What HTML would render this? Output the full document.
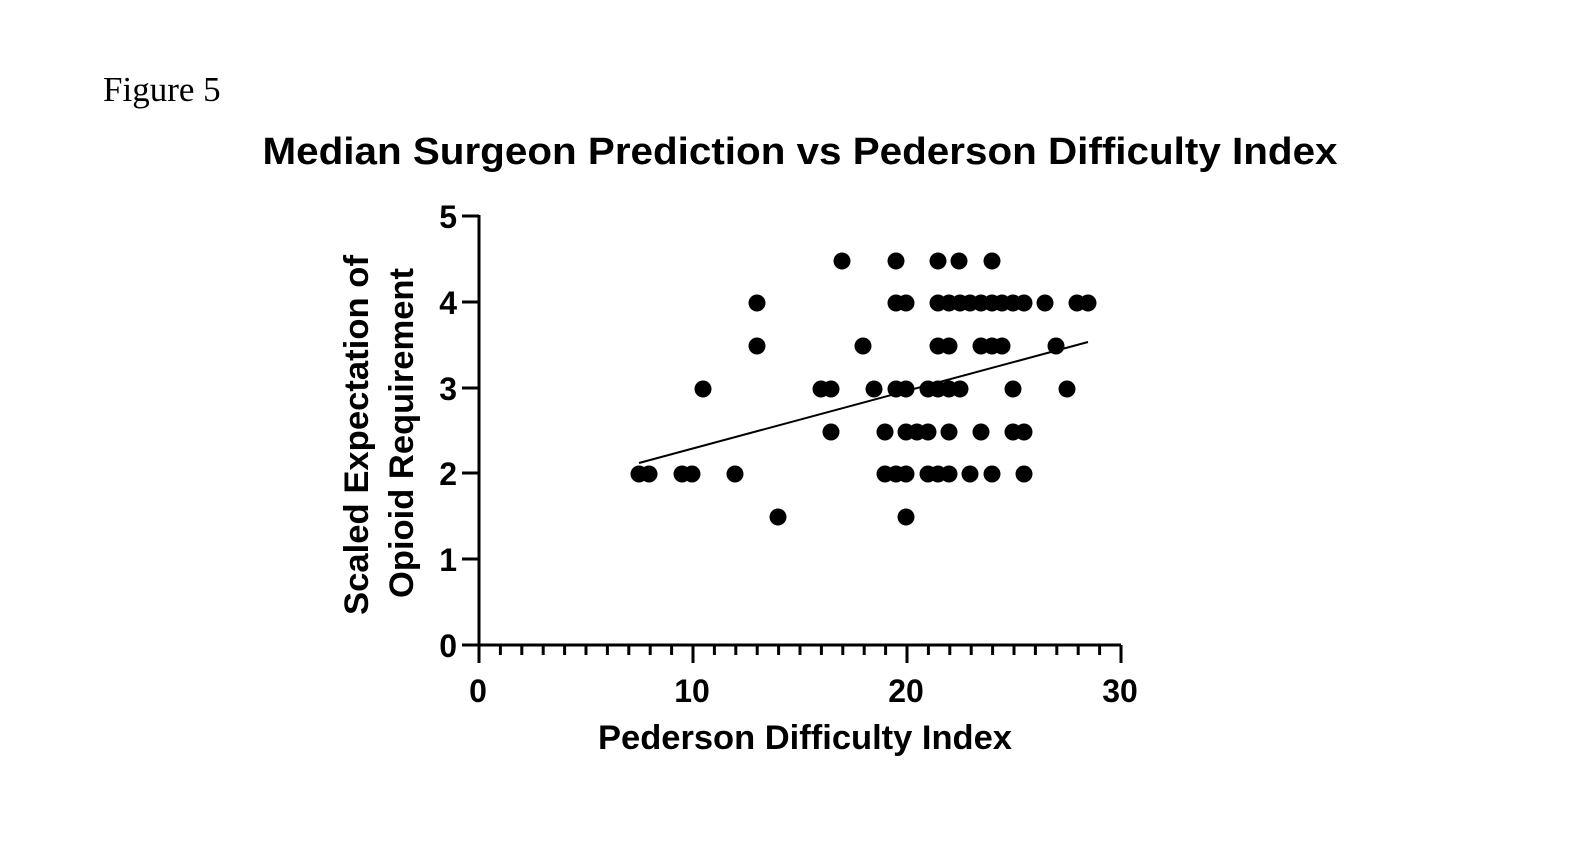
<!DOCTYPE html>
<html><head><meta charset="utf-8"><style>body{margin:0;background:#fff}svg{display:block}</style></head><body>
<svg width="1584" height="860" xmlns="http://www.w3.org/2000/svg" font-family="Liberation Sans, Arial, sans-serif">
<text x="103" y="101" font-family="Liberation Serif, serif" font-size="35">Figure 5</text>
<text x="800" y="164" font-size="38" font-weight="bold" text-anchor="middle" textLength="1075" lengthAdjust="spacingAndGlyphs">Median Surgeon Prediction vs Pederson Difficulty Index</text>
<g stroke="#000" stroke-width="3" fill="none">
<line x1="479" y1="215" x2="479" y2="646"/>
<line x1="478" y1="645" x2="1121" y2="645"/>
<line x1="462" y1="216" x2="479" y2="216"/>
<line x1="462" y1="302" x2="479" y2="302"/>
<line x1="462" y1="388" x2="479" y2="388"/>
<line x1="462" y1="473" x2="479" y2="473"/>
<line x1="462" y1="559" x2="479" y2="559"/>
<line x1="462" y1="645" x2="479" y2="645"/>
</g>
<g stroke="#000" stroke-width="3" id="ticks"></g>
<g font-size="32" font-weight="bold" text-anchor="end">
<text x="457" y="228">5</text><text x="457" y="314">4</text><text x="457" y="400">3</text><text x="457" y="485">2</text><text x="457" y="571">1</text><text x="457" y="657">0</text>
</g>
<g font-size="32" font-weight="bold" text-anchor="middle">
<text x="478" y="702">0</text><text x="692" y="702">10</text><text x="906" y="702">20</text><text x="1120" y="702">30</text>
</g>
<text x="805" y="749" font-size="34" font-weight="bold" text-anchor="middle" textLength="414" lengthAdjust="spacingAndGlyphs">Pederson Difficulty Index</text>
<g font-size="34" font-weight="bold" text-anchor="middle">
<text transform="translate(368,435) rotate(-90)" textLength="360" lengthAdjust="spacingAndGlyphs">Scaled Expectation of</text>
<text transform="translate(413,433) rotate(-90)" textLength="330" lengthAdjust="spacingAndGlyphs">Opioid Requirement</text>
</g>
<line x1="639" y1="463" x2="1088" y2="342" stroke="#000" stroke-width="2"/>
<g fill="#000" id="dots"></g>
<script>
var ns="http://www.w3.org/2000/svg",tk=document.getElementById("ticks");
for(var i=1;i<=30;i++){var x=479+i*21.4,l=document.createElementNS(ns,"line");l.setAttribute("x1",x);l.setAttribute("x2",x);l.setAttribute("y1",645);l.setAttribute("y2",i%10==0?663:655);tk.appendChild(l);}
var l0=document.createElementNS(ns,"line");l0.setAttribute("x1",479);l0.setAttribute("x2",479);l0.setAttribute("y1",645);l0.setAttribute("y2",663);tk.appendChild(l0);
var rows={261:[842,896,938,959,992],303:[757,896,906,938,949,960,970,981,992,1002,1013,1024,1045,1077,1088],346:[757,863,938,949,981,992,1002,1056],389:[703,821,831,874,896,906,928,938,949,960,1013,1067],432:[831,885,906,917,928,949,981,1013,1024],474:[639,649,682,692,735,885,896,906,928,938,949,970,992,1024],517:[778,906]};
var d=document.getElementById("dots");
for(var y in rows)rows[y].forEach(function(x){var c=document.createElementNS(ns,"circle");c.setAttribute("cx",x);c.setAttribute("cy",y);c.setAttribute("r",8.5);d.appendChild(c);});
</script>
</svg>
</body></html>
